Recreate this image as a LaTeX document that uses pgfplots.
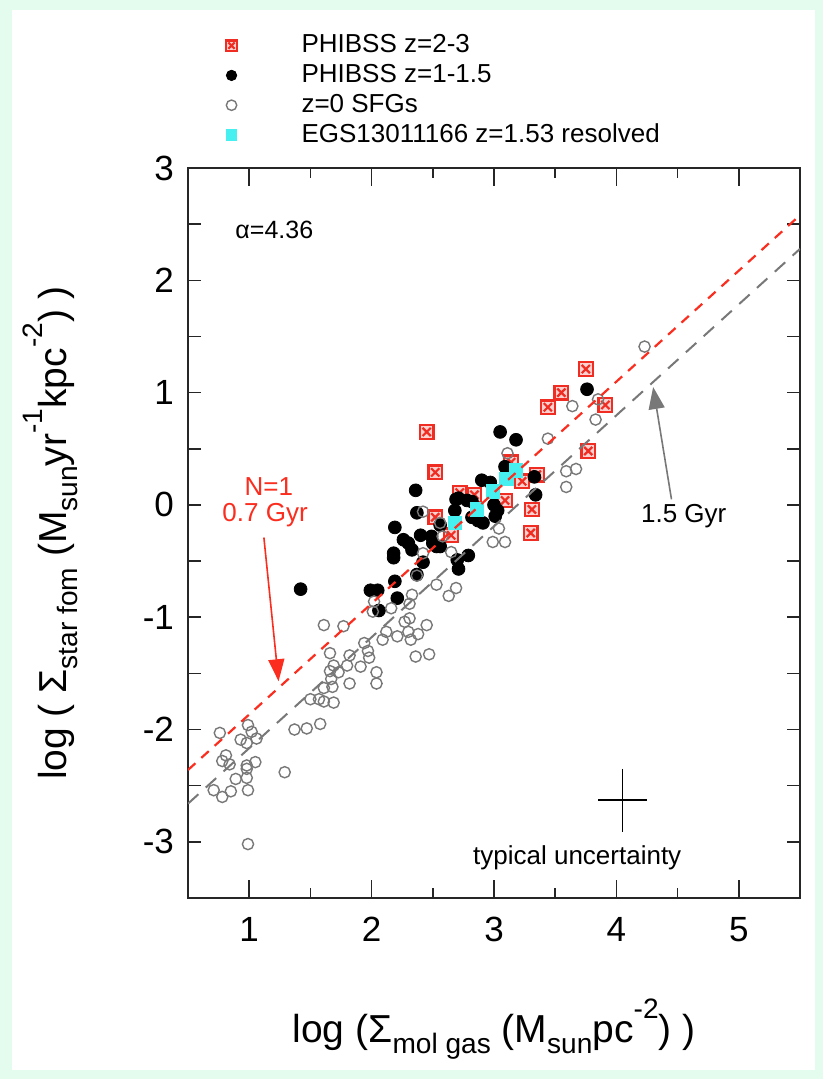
\documentclass[border=0pt]{standalone}
\usepackage{pgfplots}
\pgfplotsset{compat=1.18}
\usepackage{graphicx}
\usepackage{fontspec}
\setmainfont{Liberation Sans}
\usetikzlibrary{arrows.meta}
\definecolor{mint}{RGB}{228,252,238}
\definecolor{boxred}{RGB}{240,45,35}
\definecolor{cy}{RGB}{70,240,240}
\definecolor{lred}{RGB}{250,45,30}
\definecolor{cgray}{RGB}{120,120,120}
\newcommand{\sbs}[1]{\raisebox{-0.28em}{\scalebox{0.72}{#1}}}
\newcommand{\sps}[1]{\raisebox{0.62em}{\scalebox{0.72}{#1}}}
\pgfdeclareplotmark{boxx}{%
 \pgfpathrectangle{\pgfqpoint{-\pgfplotmarksize}{-\pgfplotmarksize}}{\pgfqpoint{2\pgfplotmarksize}{2\pgfplotmarksize}}%
 \pgfusepathqfillstroke
 \pgfpathmoveto{\pgfqpoint{-0.6\pgfplotmarksize}{-0.6\pgfplotmarksize}}%
 \pgfpathlineto{\pgfqpoint{0.6\pgfplotmarksize}{0.6\pgfplotmarksize}}%
 \pgfpathmoveto{\pgfqpoint{-0.6\pgfplotmarksize}{0.6\pgfplotmarksize}}%
 \pgfpathlineto{\pgfqpoint{0.6\pgfplotmarksize}{-0.6\pgfplotmarksize}}%
 \pgfusepathqstroke
}
\begin{document}
\begin{tikzpicture}
\fill[mint] (-94pt,-90.5pt) rectangle (317.5pt,449pt);
\fill[white] (-88pt,-86pt) rectangle (313.5pt,444pt);
\begin{axis}[
 at={(0,0)}, anchor=south west,
 scale only axis, width=306pt, height=365pt,
 xmin=0.5, xmax=5.5, ymin=-3.5, ymax=3,
 xtick={1,2,3,4,5}, xticklabels={1,2,3,4,5},
 ytick={-3,-2,-1,0,1,2,3}, yticklabels={-3,-2,-1,0,1,2,3},
 minor x tick num=1, minor y tick num=1,
 tick align=inside, xtick pos=both, ytick pos=both,
 xticklabel pos=bottom, yticklabel pos=left,
 axis line style={line width=1pt, black!85},
 every tick/.style={black!85, line width=0.75pt},
 xtick style={/pgfplots/major tick length=9pt, /pgfplots/minor tick length=5pt},
 ytick style={/pgfplots/major tick length=6.5pt, /pgfplots/minor tick length=6.5pt},
 ticklabel style={font=\fontsize{17.5}{20}\selectfont},
 xticklabel style={yshift=-6pt},
 yticklabel style={xshift=-3.5pt},
 xlabel={log (Σ\sbs{mol gas} (M\sbs{sun}pc\sps{-2}) )},
 ylabel={log ( Σ\sbs{star fom} (M\sbs{sun}yr\sps{-1}kpc\sps{-2}) )},
 label style={font=\fontsize{19.5}{22}\selectfont},
 xlabel style={at={(axis description cs:0.5,-0.179)}, anchor=center},
 ylabel style={at={(axis description cs:-0.225,0.5)}, anchor=center},
 legend style={at={(axis description cs:0.062,1.186)}, anchor=north west,
   draw=none, fill=none, inner sep=0pt, row sep=1.9pt,
   font=\fontsize{13}{15}\selectfont,
   nodes={inner sep=0pt, text height=10pt, text depth=3pt}},
 legend cell align=left,
 legend image code/.code={\draw[#1] plot coordinates {(0pt,0pt)}; \path[draw=none, fill=none] (0pt,0pt) -- (35pt,0pt);},
 legend image post style={mark size=2.6pt},
 clip mode=individual,
]
\addplot[only marks, mark=boxx, mark size=3.4pt, mark options={draw=boxred, fill=boxred!22, line width=1.1pt}] coordinates {
(3.75,1.21) (3.55,1.00) (3.44,0.87) (3.91,0.89) (3.77,0.48)
(2.45,0.65) (2.52,0.29) (3.35,0.27) (3.23,0.21) (3.14,0.38)
(3.09,0.04) (3.31,-0.04) (3.30,-0.25) (2.72,0.11) (2.84,0.09)
(2.52,-0.11) (2.65,-0.27)
};
\addlegendentry{PHIBSS z=2-3}
\addplot[only marks, mark=*, mark size=3.2pt, mark options={draw=black, fill=black}] coordinates {
(3.76,1.03) (3.05,0.65) (3.18,0.58) (3.09,0.34) (3.10,0.24)
(3.33,0.25) (3.34,0.09) (2.90,0.22) (2.97,0.20) (2.36,0.13)
(2.37,-0.07) (2.69,0.05) (2.71,0.06) (2.78,0.04) (2.82,0.03)
(2.68,-0.05) (2.82,-0.11) (2.87,-0.14) (2.91,-0.16) (3.00,0.00)
(3.03,-0.05) (3.01,-0.10) (2.19,-0.20) (2.26,-0.31) (2.30,-0.34)
(2.18,-0.43) (2.18,-0.47) (2.33,-0.40) (2.40,-0.27) (2.49,-0.28)
(2.42,-0.51) (2.50,-0.34) (2.53,-0.37) (2.56,-0.37) (2.37,-0.62)
(2.70,-0.49) (2.71,-0.57) (2.79,-0.45) (2.19,-0.68) (2.21,-0.83)
(2.06,-0.94) (1.99,-0.76) (2.05,-0.76) (1.42,-0.75) (2.56,-0.18)
};
\addlegendentry{PHIBSS z=1-1.5}
\addplot[only marks, mark=o, mark size=2.8pt, mark options={draw=cgray, line width=0.7pt}] coordinates {
(0.99,-3.02) (0.76,-2.03) (0.99,-1.96) (0.93,-2.09) (0.98,-2.12)
(1.02,-2.02) (1.06,-2.08) (0.81,-2.23) (0.78,-2.28) (0.84,-2.31)
(0.98,-2.32) (1.05,-2.29) (0.89,-2.44) (0.98,-2.43) (0.98,-2.35)
(0.71,-2.54) (0.78,-2.60) (0.85,-2.55) (0.99,-2.54) (1.29,-2.38)
(1.37,-2.00) (1.47,-1.99) (1.58,-1.95) (1.50,-1.73) (1.57,-1.73)
(1.61,-1.75) (1.69,-1.76) (1.61,-1.63) (1.68,-1.62) (1.67,-1.55)
(1.69,-1.43) (1.80,-1.43) (1.82,-1.59) (1.73,-1.49) (1.66,-1.48)
(1.66,-1.32) (1.61,-1.07) (1.77,-1.08) (1.82,-1.34) (1.91,-1.44)
(1.94,-1.23) (1.97,-1.30) (1.98,-1.36) (2.04,-1.49) (2.04,-1.59)
(2.01,-0.95) (2.02,-0.86) (2.09,-1.20) (2.12,-1.13) (2.16,-0.92)
(2.21,-1.17) (2.27,-1.04) (2.31,-1.01) (2.30,-1.13) (2.32,-1.20)
(2.38,-1.15) (2.45,-1.07) (2.36,-1.35) (2.47,-1.33) (2.31,-0.88)
(2.33,-0.80) (2.37,-0.63) (2.42,-0.43) (2.42,-0.06) (2.56,-0.16)
(2.58,-0.28) (2.65,-0.42) (2.53,-0.71) (2.69,-0.74) (2.63,-0.81)
(3.04,-0.21) (2.99,-0.33) (3.09,-0.33) (3.11,0.46) (3.44,0.59)
(3.59,0.30) (3.67,0.32) (3.59,0.16) (3.64,0.88) (3.85,0.94)
(3.83,0.76) (4.23,1.41)
};
\addlegendentry{z=0 SFGs}
\addplot[only marks, mark=square*, mark size=3.4pt, mark options={draw=cy, fill=cy}] coordinates {
(2.68,-0.16) (2.86,-0.04) (2.99,0.12) (3.10,0.23) (3.18,0.31)
};
\addlegendentry{EGS13011166 z=1.53 resolved}
\addplot[lred, line width=1.1pt, dash pattern=on 5pt off 4pt, forget plot] coordinates {(0.5,-2.36) (5.5,2.58)};
\addplot[cgray, line width=1pt, dash pattern=on 7pt off 5pt, forget plot] coordinates {(0.5,-2.66) (5.5,2.28)};
\node[anchor=west, font=\fontsize{12.5}{14}\selectfont] at (axis cs:0.83,2.45) {α=4.36};
\node[lred, font=\fontsize{13}{15}\selectfont] at (axis cs:1.16,0.16) {N=1};
\node[lred, font=\fontsize{13}{15}\selectfont] at (axis cs:1.13,-0.09) {0.7 Gyr};
\node[font=\fontsize{13}{15}\selectfont] at (axis cs:4.55,-0.10) {1.5 Gyr};
\node[font=\fontsize{13}{15}\selectfont] at (axis cs:3.68,-3.14) {typical uncertainty};
\draw[lred, line width=0.8pt, -{Triangle[length=11pt, width=8pt]}] (axis cs:1.12,-0.29) -- (axis cs:1.24,-1.57);
\draw[cgray, line width=0.8pt, -{Triangle[length=11pt, width=8pt]}] (axis cs:4.45,0.05) -- (axis cs:4.30,1.05);
\draw[black, line width=0.9pt] (axis cs:3.85,-2.63) -- (axis cs:4.25,-2.63) (axis cs:4.05,-2.35) -- (axis cs:4.05,-2.91);
\end{axis}
\end{tikzpicture}
\end{document}
